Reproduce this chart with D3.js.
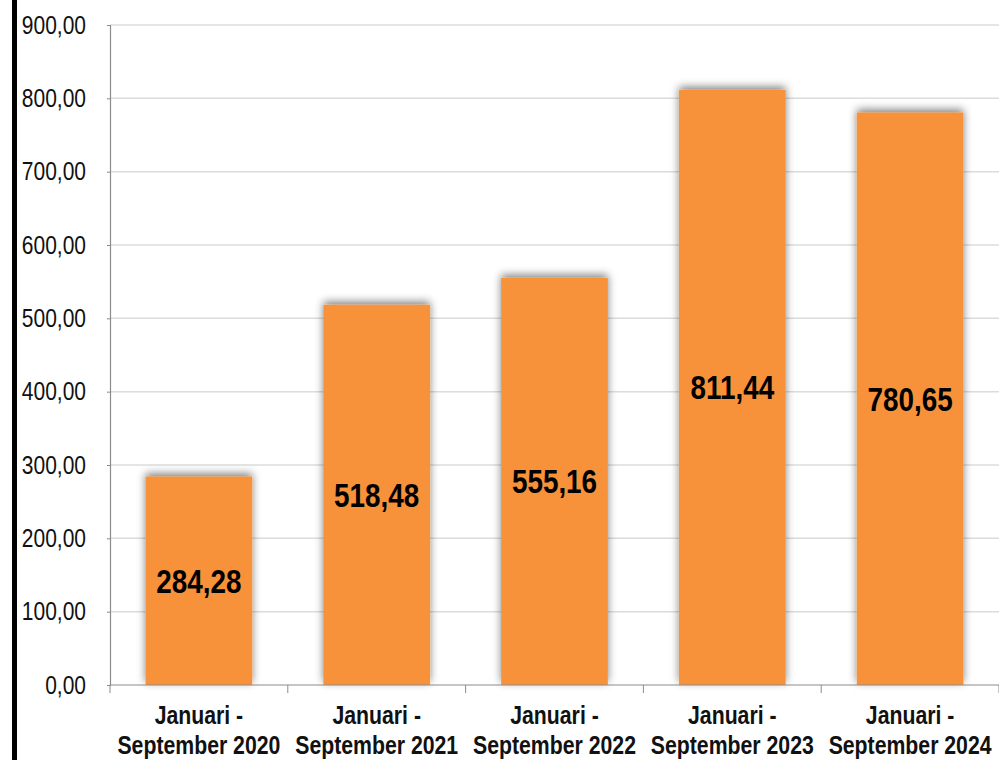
<!DOCTYPE html>
<html><head><meta charset="utf-8">
<script src="https://cdn.jsdelivr.net/npm/d3@7"></script>
<style>
body{margin:0;background:#fff;}
svg{display:block;}
</style></head>
<body>
<svg id="c" width="999" height="760"></svg>
<script>
const categories = ["Januari - September 2020","Januari - September 2021","Januari - September 2022","Januari - September 2023","Januari - September 2024"];
const values = [284.28, 518.48, 555.16, 811.44, 780.65];
const valueLabels = ["284,28","518,48","555,16","811,44","780,65"];
const yTicks = [0,100,200,300,400,500,600,700,800,900];
const yTickLabels = ["0,00","100,00","200,00","300,00","400,00","500,00","600,00","700,00","800,00","900,00"];

const svg = d3.select("#c");
const W = 999, H = 760;
const m = {left:110, right:0, top:25, bottom:75};
const font = "'Liberation Sans',Arial,sans-serif";
const SX = 0.82; // narrow emulation

// left black bar
svg.append("rect").attr("x",12).attr("y",0).attr("width",5).attr("height",H).attr("fill","#000");

const x = d3.scaleBand().domain(categories).range([m.left, W - m.right]).paddingInner(0.4).paddingOuter(0.2);
const y = d3.scaleLinear().domain([0,900]).range([H - m.bottom, m.top]);

const defs = svg.append("defs");
const f = defs.append("filter").attr("id","sh").attr("x","-30%").attr("y","-30%").attr("width","160%").attr("height","160%");
f.append("feGaussianBlur").attr("in","SourceAlpha").attr("stdDeviation",4).attr("result","b");
f.append("feOffset").attr("in","b").attr("dx",0).attr("dy",-3).attr("result","o");
f.append("feFlood").attr("flood-color","#000").attr("flood-opacity",0.5);
f.append("feComposite").attr("in2","o").attr("operator","in").attr("result","s");
const mg = f.append("feMerge");
mg.append("feMergeNode").attr("in","s");
mg.append("feMergeNode").attr("in","SourceGraphic");

// gridlines
svg.append("g").selectAll("line").data(yTicks.filter(d=>d>0)).join("line")
  .attr("x1",m.left).attr("x2",W).attr("y1",d=>y(d)).attr("y2",d=>y(d))
  .attr("stroke","#dcdcdc").attr("stroke-width",1.5);

// y axis (ticks only, labels drawn narrow)
const yAxis = d3.axisLeft(y).tickValues(yTicks).tickSize(3).tickFormat("");
const gy = svg.append("g").attr("transform",`translate(${m.left},0)`).call(yAxis);
gy.select(".domain").attr("stroke","#8c8c8c").attr("stroke-width",1.2);
gy.selectAll(".tick line").attr("stroke","#8c8c8c");

svg.append("g").selectAll("text").data(yTicks).join("text")
  .attr("transform",d=>`translate(86,${y(d)}) scale(0.84,1)`)
  .attr("dy","0.35em").attr("text-anchor","end")
  .attr("font-family",font).attr("font-size",25).attr("fill","#111")
  .text((d,i)=>yTickLabels[i]);

// bars
svg.append("g").selectAll("rect").data(values).join("rect")
  .attr("x",(d,i)=>x(categories[i])).attr("width",x.bandwidth())
  .attr("y",d=>y(d)).attr("height",d=>y(0)-y(d))
  .attr("fill","#F7923B").attr("filter","url(#sh)");

// x axis
const step = x.step();
const bounds = d3.range(categories.length+1).map(i=>m.left + i*step);
svg.append("line").attr("x1",m.left).attr("x2",W).attr("y1",y(0)).attr("y2",y(0)).attr("stroke","#8c8c8c").attr("stroke-width",1.2);
svg.append("g").selectAll("line").data(bounds).join("line")
  .attr("x1",d=>d).attr("x2",d=>d).attr("y1",y(0)).attr("y2",y(0)+8).attr("stroke","#8c8c8c");

// x labels
const xg = svg.append("g").selectAll("g").data(categories).join("g")
  .attr("transform",d=>`translate(${x(d)+x.bandwidth()/2},0) scale(0.85,1)`);
xg.append("text").attr("y",724).attr("text-anchor","middle")
  .attr("font-family",font).attr("font-weight","bold").attr("font-size",25).attr("fill","#111")
  .text(d=>d.split(" - ")[0]+" -");
xg.append("text").attr("y",754).attr("text-anchor","middle")
  .attr("font-family",font).attr("font-weight","bold").attr("font-size",25).attr("fill","#111")
  .text(d=>d.split(" - ")[1]);

// value labels
svg.append("g").selectAll("text").data(values).join("text")
  .attr("transform",(d,i)=>`translate(${x(categories[i])+x.bandwidth()/2},${(y(d)+y(0))/2}) scale(${SX},1)`)
  .attr("dy","0.35em").attr("text-anchor","middle")
  .attr("font-family",font).attr("font-weight","bold").attr("font-size",34).attr("fill","#000")
  .text((d,i)=>valueLabels[i]);
</script>
</body></html>
